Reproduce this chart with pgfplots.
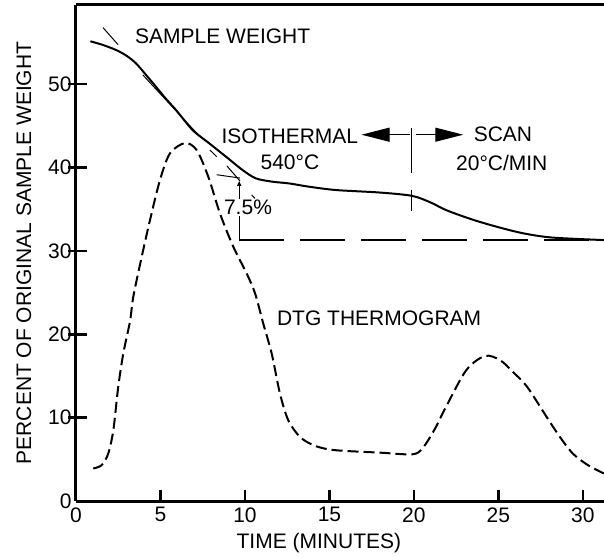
\documentclass[border=0pt]{standalone}
\usepackage{fontspec}
\setmainfont{Liberation Sans}
\usepackage{pgfplots}
\pgfplotsset{compat=1.18}
\usetikzlibrary{arrows.meta}

\begin{document}
\begin{tikzpicture}
\useasboundingbox (-76pt,-56pt) rectangle (528pt,501pt);
\begin{axis}[
    scale only axis,
    width=528pt, height=496pt,
    xmin=0, xmax=31.25,
    ymin=0, ymax=59.5,
    axis x line=box, axis y line=left,
    axis line style={-, line width=3pt},
    xtick pos=bottom,
    xtick={0,5,...,30}, ytick={0,10,...,50},
    tick align=inside,
    major tick length=11pt,
    tick style={line width=2.5pt, black},
    extra y ticks={10,20,30,40,50},
    extra y tick labels={},
    extra y tick style={tick align=outside, major tick length=8pt},
    tick label style={font=\fontsize{21}{25}\selectfont},
    xticklabel style={yshift=-3pt},
    yticklabel style={xshift=-1pt},
    /pgf/number format/assume math mode=true,
    every axis x label/.style={at={(axis description cs:0.46,-0.0847)}, anchor=center},
    every axis y label/.style={at={(axis description cs:-0.0985,0.5)}, rotate=90, anchor=center},
    label style={font=\fontsize{21}{25}\selectfont},
    xlabel={TIME (MINUTES)},
    ylabel={PERCENT OF ORIGINAL SAMPLE WEIGHT},
]

% sample weight (solid)
\addplot[black, line width=2pt, smooth] coordinates {
    (0.85,55.15) (1.6,54.7) (2.37,54.1) (3.0,53.4) (3.55,52.5) (4.15,51.1)
    (4.73,49.7) (5.3,48.3) (5.92,46.9) (6.9,44.5) (7.89,42.9) (8.88,41.3)
    (9.86,39.7) (10.65,38.7) (11.64,38.3) (12.6,38.1) (13.8,37.7) (15.4,37.3)
    (18,37.0) (19.9,36.6) (21,35.8) (21.9,34.9) (23.4,33.8) (24.9,32.9)
    (26.5,32.1) (28.2,31.6) (31.25,31.3)
};

% DTG thermogram (dashed)
\addplot[black, line width=2pt, smooth, dash pattern=on 11pt off 5pt] coordinates {
    (1.02,3.9) (1.52,4.3) (1.91,5.7) (2.21,8.5) (2.5,13.7) (2.8,17.7)
    (3.2,21.6) (3.39,24.5) (3.89,29.3) (4.38,33.7) (4.97,38.5) (5.56,41.7)
    (6.45,42.94) (7.14,42.1) (7.83,38.9) (8.52,34.5) (9.31,30.5) (10.1,27.3)
    (10.6,24.9) (11.08,21.3) (11.58,17.7) (12.07,12.9) (12.56,9.7) (13.25,7.7)
    (14.04,6.7) (14.93,6.2) (16,6.0) (18,5.8) (19.9,5.6) (20.5,6.3) (21.2,8.5)
    (21.9,11.3) (23.1,15.7) (24.2,17.4) (25.1,16.9) (25.9,15.4) (26.7,13.7)
    (27.85,10.1) (28.6,7.8) (29.4,5.7) (30.3,4.3) (31.25,3.3)
};

% tangent construction
\draw[line width=1pt] (axis cs:1.60,56.78) -- (axis cs:2.49,54.74);
\draw[line width=1pt] (axis cs:3.96,51.1) -- (axis cs:7.34,43.7);
\draw[line width=1pt] (axis cs:7.93,42.1) -- (axis cs:8.33,41.3);
\draw[line width=1pt] (axis cs:8.93,40.2) -- (axis cs:9.70,38.4);
\draw[line width=1pt] (axis cs:10.40,36.7) -- (axis cs:10.59,36.3);
\draw[line width=1pt] (axis cs:8.33,39.14) -- (axis cs:9.70,38.74);
\draw[line width=1.2pt, -{Triangle[length=5pt,width=4pt]}] (axis cs:9.66,36.25) -- (axis cs:9.66,38.4);
\draw[line width=1.2pt] (axis cs:9.66,34.13) -- (axis cs:9.66,31.33);
\draw[line width=1.5pt, dash pattern=on 45pt off 16pt] (axis cs:9.66,31.33) -- (axis cs:31.25,31.33);

% isothermal / scan boundary
\draw[line width=1pt] (axis cs:19.86,44.78) -- (axis cs:19.86,39.34);
\draw[line width=1pt] (axis cs:19.86,37.33) -- (axis cs:19.86,34.73);
\draw[line width=1pt, -{Triangle[length=28pt,width=14pt]}] (axis cs:19.76,43.94) -- (axis cs:16.9,43.94);
\draw[line width=1pt, -{Triangle[length=28pt,width=14pt]}] (axis cs:20.12,43.94) -- (axis cs:22.92,43.94);

% text
\begin{scope}[font=\fontsize{21}{25}\selectfont, inner sep=0pt]
\node[anchor=west] at (axis cs:3.49,55.7) {SAMPLE WEIGHT};
\node at (axis cs:12.66,43.7) {ISOTHERMAL};
\node at (axis cs:12.66,40.58) {540°C};
\node at (axis cs:25.27,43.94) {SCAN};
\node at (axis cs:25.2,40.58) {20°C/MIN};
\node at (axis cs:10.18,35.17) {7.5\%};
\node at (axis cs:17.94,21.93) {DTG THERMOGRAM};
\end{scope}
\end{axis}
\end{tikzpicture}
\end{document}
